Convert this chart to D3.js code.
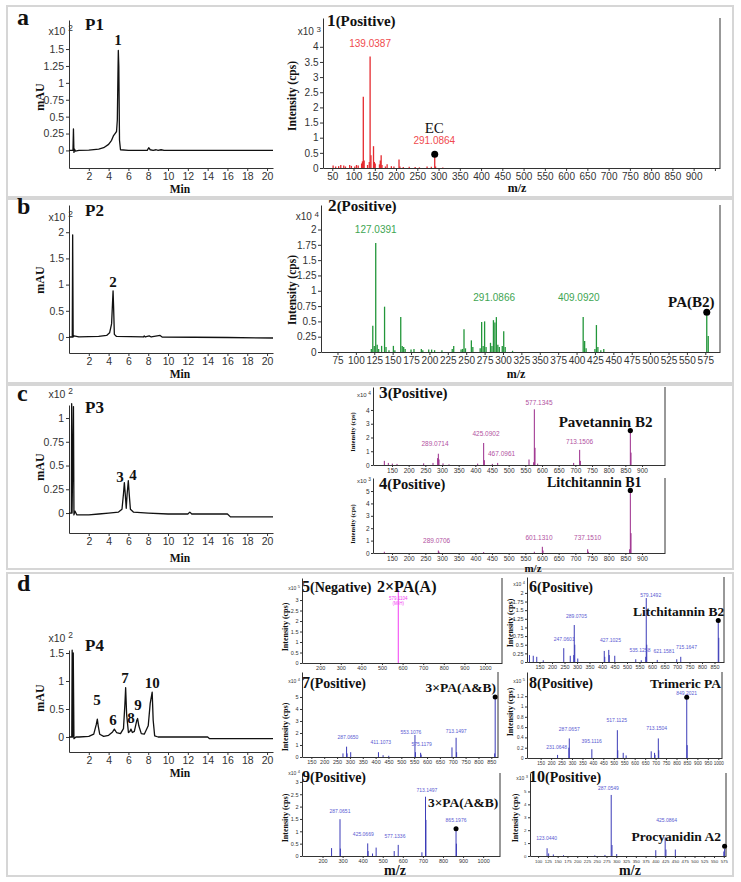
<!DOCTYPE html>
<html><head><meta charset="utf-8">
<script src="https://cdn.jsdelivr.net/npm/d3@7"></script>
<style>body{margin:0;background:#fff}</style></head>
<body><svg id="c" width="741" height="882"></svg>
<script>
// ---------------- DATA ----------------
const chromXTicks=[2,4,6,8,10,12,14,16,18,20];
const p1YTicks=[0,0.25,0.5,0.75,1,1.25,1.5];
const p2YTicks=[0,0.5,1,1.5,2];
const p3YTicks=[0,0.25,0.5,0.75,1];
const p4YTicks=[0,0.5,1,1.5];

const p1Trace=[[0,0],[0.4,0],[0.45,0.32],[0.5,-0.03],[0.55,0.02],[0.65,-0.01],[1,0],[2,0.005],[3,0.02],[3.5,0.04],[4,0.09],[4.3,0.15],[4.5,0.22],[4.65,0.25],[4.8,0.28],[4.88,0.45],[4.95,1.2],[4.98,1.48],[5.03,1.25],[5.1,0.15],[5.2,0.01],[6,0],[7.9,0],[8.05,0.04],[8.2,0.01],[8.5,0],[8.8,0.01],[9,0],[9.3,0.01],[9.6,0],[20.6,0]];
const p2Trace=[[0,0],[0.33,0],[0.37,1.95],[0.42,0],[0.5,0.02],[1,0],[3,0.01],[3.8,0.03],[4.1,0.08],[4.3,0.25],[4.45,0.88],[4.5,0.6],[4.58,0.05],[4.8,0.01],[7.5,0],[7.6,0.02],[7.7,0],[8.1,0.02],[8.3,0],[9.2,0.03],[9.4,0],[16,-0.01],[20.6,-0.02]];
const p3Trace=[[0,0],[0.24,0],[0.27,1.15],[0.31,0],[0.45,1.12],[0.5,-0.02],[0.6,0.02],[0.8,-0.02],[1,-0.02],[2,-0.02],[3,-0.01],[4,0],[5,0.01],[5.35,0.04],[5.5,0.2],[5.59,0.32],[5.68,0.2],[5.78,0.05],[5.87,0.2],[5.99,0.34],[6.08,0.2],[6.2,0.04],[6.5,0.01],[8,0],[10,-0.01],[12,-0.01],[12.2,0.01],[12.4,-0.01],[16,-0.01],[16.3,-0.04],[20.6,-0.04]];
const p4Trace=[[0,0],[0.28,0],[0.32,1.55],[0.37,0],[0.43,1.5],[0.5,-0.03],[0.7,0],[1,0],[2,0.01],[2.5,0.05],[2.75,0.22],[2.86,0.32],[2.95,0.2],[3.1,0.05],[3.5,0.01],[4,0.03],[4.4,0.09],[4.58,0.14],[4.8,0.08],[5.2,0.06],[5.5,0.15],[5.65,0.6],[5.72,0.88],[5.82,0.4],[6.0,0.08],[6.15,0.1],[6.26,0.14],[6.4,0.08],[6.6,0.1],[6.85,0.3],[6.93,0.33],[7.05,0.2],[7.3,0.06],[7.6,0.05],[8.0,0.2],[8.2,0.6],[8.4,0.8],[8.5,0.3],[8.65,0.02],[9,0],[14,0],[14.2,-0.03],[20.6,-0.03]];

const p1Labels=[["1",4.95,1.56]];
const p2Labels=[["2",4.44,0.955]];
const p3Labels=[["3",5.15,0.33],["4",6.47,0.35]];
const p4Labels=[["5",2.83,0.57],["6",4.44,0.21],["7",5.66,0.96],["8",6.26,0.25],["9",6.97,0.48],["10",8.4,0.88]];

// spectra: [m/z, intensity]
const s1Peaks=[[52,0.08],[58,0.05],[65,0.06],[70,0.1],[77,0.08],[81,0.05],[91,0.1],[95,0.07],[103,0.05],[107,0.1],[111,0.08],[119,0.15],[121,0.22],[123,2.35],[125,0.25],[133,0.1],[137,0.2],[139,3.68],[141,0.42],[147,0.72],[149,0.2],[151,0.15],[161,0.12],[163,0.25],[165,0.42],[167,0.1],[175,0.05],[179,0.12],[189,0.06],[195,0.05],[207,0.28],[209,0.05],[217,0.03],[231,0.04],[245,0.03],[255,0.02],[273,0.05],[283,0.04],[291,0.38],[293,0.05],[310,0.02]];
const s1Dots=[[291,0.45]];
const s1Labels=[["139.0387",139,4.0],["291.0864",290,0.78]];
const s1Notes=[["EC",290,1.15,"middle"]];
const s1XTicks=[50,100,150,200,250,300,350,400,450,500,550,600,650,700,750,800,850,900,950];
const s1YTicks=[0,0.5,1,1.5,2,2.5,3,3.5,4];

const s2Peaks=[[121,0.05],[123,0.43],[125,0.1],[127,1.78],[129,0.12],[131,0.05],[135,0.1],[139,0.74],[141,0.08],[145,0.03],[151,0.1],[153,0.03],[161,0.57],[163,0.1],[165,0.08],[167,0.05],[175,0.04],[179,0.05],[189,0.05],[191,0.03],[199,0.04],[203,0.04],[207,0.03],[217,0.03],[231,0.05],[233,0.1],[243,0.04],[245,0.05],[247,0.37],[249,0.06],[257,0.19],[259,0.08],[269,0.06],[271,0.49],[273,0.1],[275,0.5],[277,0.08],[283,0.15],[285,0.1],[287,0.52],[289,0.48],[291,0.57],[293,0.12],[295,0.08],[299,0.1],[301,0.34],[303,0.08],[313,0.02],[409,0.57],[411,0.18],[413,0.06],[425,0.05],[427,0.44],[429,0.08],[433,0.03],[437,0.05],[577,0.6],[579,0.26]];
const s2Dots=[[577,0.65]];
const s2Labels=[["127.0391",127,1.95],["291.0866",288,0.83],["409.0920",403,0.83]];
const s2Notes=[["PA(B2)",556,0.73,"middle"]];
const s2XTicks=[75,100,125,150,175,200,225,250,275,300,325,350,375,400,425,450,475,500,525,550,575];
const s2YTicks=[0,0.25,0.5,0.75,1,1.25,1.5,1.75,2];

const s3Peaks=[[127,0.3],[139,0.15],[151,0.1],[165,0.08],[245,0.12],[273,0.15],[287,0.5],[289,0.82],[291,0.4],[303,0.12],[321,0.05],[407,0.1],[425,1.6],[427,0.35],[451,0.08],[467,0.15],[561,0.4],[575,0.2],[577,4.05],[579,1.25],[587,0.1],[695,0.15],[713,1.1],[715,0.3],[865,2.4],[867,0.9]];
const s3Dots=[[865,2.5]];
const s3Labels=[["289.0714",279,1.38],["425.0902",432,2.1],["577.1345",591,4.36],["713.1506",713,1.5]];
const s3StartLabels=[["467.0961",438,0.62]];
const s3Notes=[["Pavetannin B2",650,2.75,"start"]];
const s4Peaks=[[127,0.1],[289,0.2],[291,0.1],[425,0.08],[577,0.1],[601,0.5],[603,0.2],[737,0.3],[739,0.1],[863,0.3],[865,5.0],[867,1.6]];
const s4Dots=[[865,5.05]];
const s4Labels=[["289.0706",284,0.77],["601.1310",591,1.05],["737.1510",737,1.05]];
const s4Notes=[["Litchitannin B1",615,5.3,"start"]];
const s34XTicks=[150,200,250,300,350,400,450,500,550,600,650,700,750,800,850,900];
const s3YTicks=[0,1,2,3,4];
const s4YTicks=[0,1,2,3,4,5];

const s5Peaks=[[579,3.5]];
const s5Labels=[["579.1104",579,3.0],["(M-H)",579,2.76]];
const s5XTicks=[200,300,400,500,600,700,800,900,1000];
const s5YTicks=[0,0.5,1,1.5,2,2.5,3];

const s6Peaks=[[110,0.2],[125,0.18],[139,0.15],[165,0.05],[247,0.4],[273,0.18],[287,0.2],[289,1.07],[291,0.5],[303,0.1],[409,0.32],[411,0.15],[427,0.35],[429,0.2],[451,0.18],[535,0.08],[557,0.05],[575,0.15],[577,1.85],[579,0.5],[621,0.06],[699,0.08],[715,0.15],[865,1.19],[867,0.7]];
const s6Dots=[[865,1.2]];
const s6Labels=[["579.1492",595,1.88],["289.0705",298,1.28],["247.0601",249,0.61],["427.1025",434,0.58],["535.1258",552,0.28],["621.1581",648,0.25],["715.1647",738,0.39]];
const s6Notes=[["Litchitannin B2",524,1.33,"start"]];
const s6XTicks=[150,200,250,300,350,400,450,500,550,600,650,700,750,800,850];
const s6YTicks=[0,0.25,0.5,0.75,1,1.25,1.5,1.75,2];

const s7Peaks=[[273,0.3],[287,0.86],[289,0.3],[303,0.4],[411,0.4],[429,0.15],[451,0.1],[553,1.83],[555,0.4],[575,0.35],[577,0.2],[697,0.8],[713,1.6],[715,0.4],[863,0.3],[865,5.0]];
const s7Dots=[[865,5.0]];
const s7Labels=[["287.0650",292,1.5],["411.1073",420,1.08],["553.1076",537,1.95],["575.1179",579,0.88],["713.1497",713,2.04]];
const s7Notes=[["3×PA(A&B)",868,5.42,"end"]];
const s7XTicks=[150,200,250,300,350,400,450,500,550,600,650,700,750,800,850];
const s7YTicks=[0,1,2,3,4,5];

const s8Peaks=[[231,0.06],[285,0.2],[287,0.38],[395,0.17],[517,0.54],[519,0.15],[545,0.1],[559,0.05],[679,0.13],[695,0.1],[697,0.06],[713,0.38],[715,0.15],[849,1.16],[851,0.25]];
const s8Dots=[[849,1.18]];
const s8Labels=[["849.2021",849,1.22],["287.0657",287,0.53],["395.1116",394,0.3],["517.1125",514,0.69],["713.1504",705,0.55],["231.0648",227,0.18]];
const s8Notes=[["Trimeric PA",1013,1.36,"end"]];
const s8XTicks=[150,200,250,300,350,400,450,500,550,600,650,700,750,800,850,900,950,1000];
const s8YTicks=[0,0.2,0.4,0.6,0.8,1,1.2];

const s9Peaks=[[245,0.32],[287,1.49],[289,0.3],[425,0.51],[427,0.2],[449,0.1],[467,0.34],[557,0.2],[577,0.45],[695,0.15],[713,2.4],[715,1.46],[865,1.05],[867,0.5]];
const s9Dots=[[865,1.1]];
const s9Labels=[["287.0651",287,1.76],["425.0669",403,0.81],["577.1336",561,0.73],["713.1497",720,2.61],["865.1976",865,1.38]];
const s9Notes=[["3×PA(A&B)",725,2.0,"start"]];
const s9XTicks=[200,300,400,500,600,700,800,900,1000];
const s9YTicks=[0,0.5,1,1.5,2,2.5,3];

const s10Peaks=[[123,0.6],[127,0.2],[139,0.12],[165,0.06],[245,0.05],[271,0.08],[287,4.73],[289,0.85],[301,0.15],[401,0.45],[425,1.45],[427,0.5],[451,0.5],[575,0.35],[577,0.55]];
const s10Dots=[[577,0.75]];
const s10Labels=[["287.0549",280,5.1],["425.0864",429,2.6],["123.0440",122,1.24]];
const s10Notes=[["Procyanidin A2",339,1.16,"start"]];
const s10XTicks=[100,125,150,175,200,225,250,275,300,325,350,375,400,425,450,475,500,525,550,575];
const s10YTicks=[0,1,2,3,4,5];

// ---------------- DRAWING ----------------
const svg=d3.select("#c");
const SERIF="'Liberation Serif','Times New Roman',serif";
const SANS="'Liberation Sans',Arial,sans-serif";

function txt(x,y,s,o={}){
  const t=svg.append("text").attr("x",x).attr("y",y).text(s)
    .attr("font-family",o.ff||SERIF).attr("font-size",o.fs||12)
    .attr("font-weight",o.fw||"bold").attr("fill",o.fill||"#111")
    .attr("text-anchor",o.anchor||"start");
  if(o.rot) t.attr("transform",`rotate(-90,${x},${y})`);
  return t;
}
function mult(xr,y,exp,fs){
  const t=svg.append("text").attr("x",xr).attr("y",y).attr("text-anchor","end")
    .attr("font-family",SANS).attr("font-size",fs).attr("fill","#333");
  t.append("tspan").text("x10 ");
  t.append("tspan").attr("font-size",fs*0.8).attr("dy",-fs*0.35).text(exp);
}

// panel frames
[[7,6,726,191],[7,199,726,184],[7,385,726,184],[7,573,726,303]].forEach(r=>{
  svg.append("rect").attr("x",r[0]).attr("y",r[1]).attr("width",r[2]).attr("height",r[3])
    .attr("fill","none").attr("stroke","#d6d6d6").attr("stroke-width",2);
});

function styleAxis(a,fs,col){
  a.selectAll("text").attr("font-family",SANS).attr("font-size",fs).attr("fill",col||"#333");
  a.selectAll("line,path").attr("stroke","#333");
}

function chrom(o){
  const x=d3.scaleLinear().domain([0,20.6]).range([69,273]);
  const y=d3.scaleLinear().domain(o.yd).range([o.b,o.t]);
  const xa=svg.append("g").attr("transform",`translate(0,${o.b})`)
    .call(d3.axisBottom(x).tickValues(chromXTicks).tickSize(3).tickSizeOuter(0).tickPadding(2));
  const ya=svg.append("g").attr("transform",`translate(69,0)`)
    .call(d3.axisLeft(y).tickValues(o.yt).tickSize(3).tickSizeOuter(0).tickPadding(2).tickFormat(d=>String(d)));
  styleAxis(xa,10.5);styleAxis(ya,10.5);
  svg.append("path").datum(o.data).attr("d",d3.line().x(d=>x(d[0])).y(d=>y(d[1])))
    .attr("fill","none").attr("stroke","#111").attr("stroke-width",1.3).attr("stroke-linejoin","round");
  o.labels.forEach(([s,t,v])=>txt(x(t),y(v),s,{fs:15,anchor:"middle"}));
  mult(73,o.mY,"2",10.5);
  txt(85,o.pY,o.name,{fs:17});
  txt(44,o.mauY,"mAU",{fs:12,rot:true,anchor:"middle"});
  txt(180,o.minY,"Min",{fs:11.5,anchor:"middle"});
}

chrom({yd:[-0.26,1.93],t:20,b:168,yt:p1YTicks,data:p1Trace,labels:p1Labels,mY:35,pY:30,name:"P1",mauY:97,minY:193});
chrom({yd:[-0.306,2.52],t:205,b:353,yt:p2YTicks,data:p2Trace,labels:p2Labels,mY:221,pY:216,name:"P2",mauY:280,minY:378});
chrom({yd:[-0.21,1.137],t:405,b:533,yt:p3YTicks,data:p3Trace,labels:p3Labels,mY:398,pY:413,name:"P3",mauY:467,minY:562});
chrom({yd:[-0.268,1.554],t:650,b:752,yt:p4YTicks,data:p4Trace,labels:p4Labels,mY:642,pY:651,name:"P4",mauY:698,minY:777});

function spec(o){
  const x=d3.scaleLinear().domain(o.xd).range([o.l,o.r]);
  const y=d3.scaleLinear().domain(o.yd).range([o.b,o.t]);
  const xa=svg.append("g").attr("transform",`translate(0,${o.b})`)
    .call(d3.axisBottom(x).tickValues(o.xt).tickSize(o.ts).tickSizeOuter(0).tickPadding(1.5)
      .tickFormat(d=>(o.xmax&&d>o.xmax)?"":String(d)));
  const ya=svg.append("g").attr("transform",`translate(${o.l},0)`)
    .call(d3.axisLeft(y).tickValues(o.yt).tickSize(o.ts).tickSizeOuter(0).tickPadding(1.5).tickFormat(d=>String(d)));
  styleAxis(xa,o.tfs);styleAxis(ya,o.tfs);
  svg.append("line").attr("x1",o.r).attr("x2",o.r).attr("y1",o.t).attr("y2",o.b).attr("stroke","#333");
  svg.append("g").selectAll("line").data(o.peaks).join("line")
    .attr("x1",d=>x(d[0])).attr("x2",d=>x(d[0])).attr("y1",y(0)).attr("y2",d=>y(d[1]))
    .attr("stroke",o.color).attr("stroke-width",o.sw);
  svg.append("g").selectAll("circle").data(o.dots||[]).join("circle")
    .attr("cx",d=>x(d[0])).attr("cy",d=>y(d[1])).attr("r",o.dr).attr("fill","#000");
  (o.labels||[]).forEach(([s,m,v])=>txt(x(m),y(v),s,{ff:SANS,fw:"normal",fs:o.lfs,fill:o.lc,anchor:"middle"}));
  (o.startLabels||[]).forEach(([s,m,v])=>txt(x(m),y(v),s,{ff:SANS,fw:"normal",fs:o.lfs,fill:o.lc,anchor:"start"}));
  (o.notes||[]).forEach(([s,m,v,a])=>txt(x(m),y(v),s,{fs:o.nfs,anchor:a,fw:o.nfw||"bold"}));
  mult(o.mx,o.my,o.exp,o.mfs);
  txt(o.ilx,o.ily,"Intensity (cps)",{fs:o.ifs,rot:true,anchor:"middle"});
}

const RED="#e52a2f",REDL="#f04a4e",GRN="#22963a",GRNL="#3ea552",PUR="#9a2a8a",PURL="#b2529f",MAG="#f23cf2",BLU="#3b3bb8",BLUL="#5a5ad2";

spec({xd:[28.2,962],yd:[0,4.95],l:323,r:720,t:18,b:168,xt:s1XTicks,xmax:900,yt:s1YTicks,peaks:s1Peaks,dots:s1Dots,labels:s1Labels,notes:s1Notes,
  color:RED,lc:REDL,sw:1.3,dr:3.5,ts:3,tfs:10,lfs:10,nfs:15,nfw:"normal",exp:"3",mx:321,my:35,mfs:10,ilx:296,ily:96,ifs:11.5});
spec({xd:[52.6,595],yd:[0,2.4],l:321,r:720,t:205,b:352,xt:s2XTicks,yt:s2YTicks,peaks:s2Peaks,dots:s2Dots,labels:s2Labels,notes:s2Notes,
  color:GRN,lc:GRNL,sw:1.3,dr:3.5,ts:3,tfs:10,lfs:10,nfs:15,exp:"4",mx:319,my:220,mfs:10,ilx:296,ily:290,ifs:11.5});
spec({xd:[93,969],yd:[0,5.67],l:373,r:665,t:387,b:465,xt:s34XTicks,yt:s3YTicks,peaks:s3Peaks,dots:s3Dots,labels:s3Labels,startLabels:s3StartLabels,notes:s3Notes,
  color:PUR,lc:PURL,sw:1,dr:2.6,ts:2,tfs:6.5,lfs:6.5,nfs:15,exp:"4",mx:371,my:397,mfs:6,ilx:355,ily:432,ifs:6.5});
spec({xd:[93,969],yd:[0,6.05],l:373,r:665,t:478,b:553,xt:s34XTicks,yt:s4YTicks,peaks:s4Peaks,dots:s4Dots,labels:s4Labels,notes:s4Notes,
  color:PUR,lc:PURL,sw:1,dr:2.6,ts:2,tfs:6.5,lfs:6.5,nfs:14,exp:"3",mx:371,my:483,mfs:6,ilx:355,ily:524,ifs:6.5});
spec({xd:[111.7,1082.5],yd:[0,4.05],l:302,r:502,t:578,b:663,xt:s5XTicks,yt:s5YTicks,peaks:s5Peaks,dots:[],labels:s5Labels,notes:[],
  color:MAG,lc:MAG,sw:1,dr:2.5,ts:2,tfs:5.5,lfs:4.5,nfs:13.5,exp:"5",mx:300,my:590,mfs:5,ilx:288,ily:627,ifs:8});
spec({xd:[100,888],yd:[0,2.46],l:527,r:724,t:577,b:662,xt:s6XTicks,yt:s6YTicks,peaks:s6Peaks,dots:s6Dots,labels:s6Labels,notes:s6Notes,
  color:BLU,lc:BLUL,sw:1,dr:2.5,ts:2,tfs:5.5,lfs:5,nfs:13.5,exp:"4",mx:525,my:586,mfs:5,ilx:513,ily:623,ifs:8});
spec({xd:[113.6,876],yd:[0,7.08],l:302,r:498,t:672,b:757,xt:s7XTicks,yt:s7YTicks,peaks:s7Peaks,dots:s7Dots,labels:s7Labels,notes:s7Notes,
  color:BLU,lc:BLUL,sw:1,dr:2.5,ts:2,tfs:5.5,lfs:5,nfs:13.5,exp:"4",mx:300,my:683,mfs:5,ilx:288,ily:727,ifs:8});
spec({xd:[84.7,1017.7],yd:[0,1.67],l:527,r:722,t:672,b:758,xt:s8XTicks,yt:s8YTicks,peaks:s8Peaks,dots:s8Dots,labels:s8Labels,notes:s8Notes,
  color:BLU,lc:BLUL,sw:1,dr:2.5,ts:2,tfs:4.6,lfs:5,nfs:13.5,exp:"5",mx:525,my:683,mfs:5,ilx:513,ily:712,ifs:8});
spec({xd:[97.7,1084],yd:[0,3.36],l:302,r:500,t:773,b:856,xt:s9XTicks,yt:s9YTicks,peaks:s9Peaks,dots:s9Dots,labels:s9Labels,notes:s9Notes,
  color:BLU,lc:BLUL,sw:1,dr:2.5,ts:2,tfs:5.5,lfs:5,nfs:13.5,exp:"4",mx:300,my:775,mfs:5,ilx:288,ily:818,ifs:8});
spec({xd:[79.3,580.6],yd:[0,6.43],l:530,r:726,t:773,b:856,xt:s10XTicks,yt:s10YTicks,peaks:s10Peaks,dots:s10Dots,labels:s10Labels,notes:s10Notes,
  color:BLU,lc:BLUL,sw:1,dr:2.5,ts:2,tfs:4.4,lfs:5,nfs:13.5,exp:"3",mx:528,my:780,mfs:5,ilx:518,ily:818,ifs:8});

// panel letters
[["a",25],["b",214],["c",401],["d",591]].forEach(([s,y])=>txt(17,y,s,{fs:24}));
// spectrum titles
function title(x,y,num,mode,fs){
  const t=svg.append("text").attr("x",x).attr("y",y).attr("font-family",SERIF).attr("font-weight","bold").attr("fill","#111").attr("font-size",fs);
  t.append("tspan").attr("font-size",fs*1.15).text(num);
  t.append("tspan").text(mode);
}
title(327,26,"1","(Positive)",15);
title(328,211,"2","(Positive)",15);
title(379,398,"3","(Positive)",15);
title(379,489,"4","(Positive)",14.5);
title(302,592,"5","(Negative)",14);
txt(377,592,"2×PA(A)",{fs:16});
title(529,592,"6","(Positive)",14);
title(302,688,"7","(Positive)",14);
title(529,688,"8","(Positive)",14);
title(302,782,"9","(Positive)",14);
title(529,782,"10","(Positive)",14);
// m/z labels
txt(517,192,"m/z",{fs:12,anchor:"middle"});
txt(516,378,"m/z",{fs:12,anchor:"middle"});
txt(533,572,"m/z",{fs:11,anchor:"middle"});
txt(395,875,"m/z",{fs:14,anchor:"middle"});
txt(630,875,"m/z",{fs:14,anchor:"middle"});
</script></body></html>
